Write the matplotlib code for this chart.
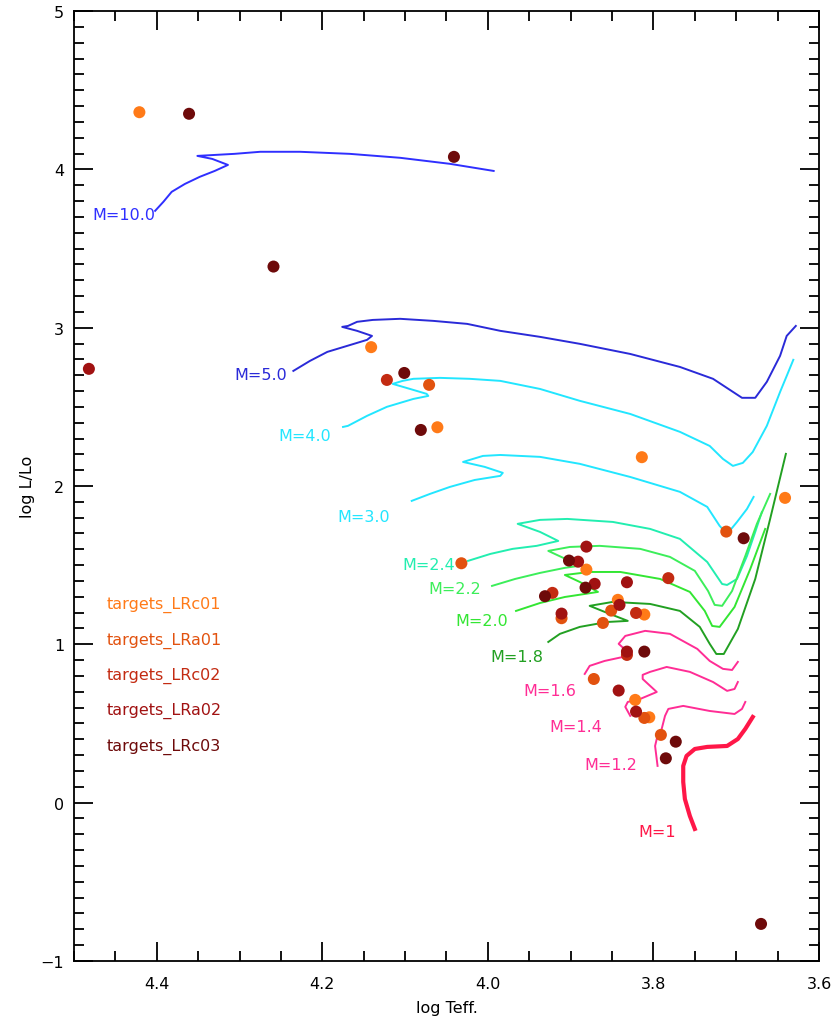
import matplotlib
matplotlib.use("Agg")
import matplotlib.pyplot as plt
from matplotlib.ticker import MultipleLocator

# evolutionary tracks (log Teff, log L/Lo)
m10_teff = [4.402, 4.392, 4.382, 4.366, 4.348, 4.330, 4.314, 4.333, 4.351, 4.306,
            4.275, 4.227, 4.167, 4.106, 4.046, 3.993]
m10_lum = [3.738, 3.795, 3.858, 3.908, 3.953, 3.990, 4.028, 4.066, 4.085, 4.098,
           4.111, 4.111, 4.098, 4.073, 4.035, 3.990]

m5_teff = [4.235, 4.215, 4.194, 4.170, 4.146, 4.140, 4.158, 4.176, 4.169, 4.158,
           4.139, 4.106, 4.066, 4.025, 3.985, 3.937, 3.889, 3.828, 3.768, 3.728,
           3.693, 3.677, 3.663, 3.647, 3.639, 3.628]
m5_lum = [2.727, 2.790, 2.847, 2.885, 2.923, 2.948, 2.980, 3.005, 3.011, 3.037,
          3.049, 3.056, 3.043, 3.024, 2.980, 2.942, 2.898, 2.834, 2.752, 2.677,
          2.557, 2.557, 2.658, 2.822, 2.948, 3.011]

m4_teff = [4.175, 4.169, 4.146, 4.122, 4.090, 4.072, 4.074, 4.094, 4.115, 4.103,
           4.090, 4.058, 4.022, 3.985, 3.937, 3.889, 3.828, 3.768, 3.732, 3.716,
           3.704, 3.692, 3.680, 3.663, 3.647, 3.639, 3.631]
m4_lum = [2.373, 2.380, 2.443, 2.500, 2.550, 2.569, 2.582, 2.613, 2.645, 2.664,
          2.677, 2.683, 2.677, 2.664, 2.613, 2.538, 2.455, 2.342, 2.253, 2.171,
          2.127, 2.146, 2.215, 2.380, 2.594, 2.695, 2.797]

m3_teff = [4.092, 4.070, 4.046, 4.016, 3.985, 3.982, 4.004, 4.030, 4.006, 3.985,
           3.937, 3.889, 3.828, 3.768, 3.735, 3.720, 3.711, 3.699, 3.687, 3.679]
m3_lum = [1.906, 1.950, 1.994, 2.038, 2.064, 2.083, 2.121, 2.152, 2.190, 2.196,
          2.184, 2.140, 2.057, 1.963, 1.868, 1.748, 1.697, 1.773, 1.855, 1.931]

m24_teff = [4.024, 3.997, 3.970, 3.941, 3.915, 3.937, 3.964, 3.937, 3.904, 3.849,
            3.804, 3.768, 3.735, 3.717, 3.711, 3.699, 3.687, 3.677, 3.669]
m24_lum = [1.527, 1.571, 1.603, 1.622, 1.653, 1.710, 1.761, 1.786, 1.792, 1.773,
           1.729, 1.666, 1.520, 1.381, 1.375, 1.413, 1.558, 1.710, 1.836]

m22_teff = [3.995, 3.967, 3.937, 3.907, 3.891, 3.906, 3.927, 3.901, 3.865, 3.816,
            3.780, 3.750, 3.734, 3.726, 3.717, 3.705, 3.689, 3.675, 3.659]
m22_lum = [1.369, 1.413, 1.451, 1.483, 1.495, 1.539, 1.590, 1.615, 1.622, 1.603,
           1.552, 1.464, 1.337, 1.249, 1.243, 1.337, 1.558, 1.761, 1.950]

m20_teff = [3.966, 3.937, 3.907, 3.883, 3.867, 3.889, 3.907, 3.877, 3.840, 3.792,
            3.756, 3.738, 3.729, 3.720, 3.702, 3.683, 3.665]
m20_lum = [1.211, 1.261, 1.299, 1.318, 1.331, 1.394, 1.438, 1.457, 1.457, 1.413,
           1.331, 1.211, 1.116, 1.110, 1.236, 1.476, 1.729]

m18_teff = [3.927, 3.913, 3.889, 3.856, 3.831, 3.859, 3.877, 3.849, 3.804, 3.768,
            3.744, 3.732, 3.724, 3.715, 3.698, 3.677, 3.659, 3.640]
m18_lum = [1.015, 1.066, 1.110, 1.141, 1.148, 1.205, 1.243, 1.268, 1.255, 1.211,
           1.110, 1.003, 0.939, 0.939, 1.097, 1.413, 1.792, 2.203]

m16_teff = [3.883, 3.877, 3.859, 3.837, 3.831, 3.842, 3.834, 3.810, 3.780, 3.747,
            3.732, 3.716, 3.705, 3.698]
m16_lum = [0.813, 0.864, 0.895, 0.920, 0.952, 1.003, 1.053, 1.085, 1.066, 0.971,
           0.895, 0.845, 0.838, 0.889]

m14_teff = [3.828, 3.834, 3.831, 3.816, 3.796, 3.813, 3.813, 3.804, 3.784, 3.756,
            3.728, 3.711, 3.702, 3.698]
m14_lum = [0.548, 0.605, 0.636, 0.655, 0.699, 0.781, 0.807, 0.826, 0.857, 0.826,
           0.762, 0.706, 0.718, 0.762]

m12_teff = [3.795, 3.798, 3.796, 3.790, 3.786, 3.782, 3.764, 3.732, 3.702, 3.693, 3.689]
m12_lum = [0.232, 0.358, 0.402, 0.466, 0.548, 0.592, 0.611, 0.579, 0.560, 0.592, 0.636]

m1_teff = [3.750, 3.756, 3.762, 3.764, 3.764, 3.760, 3.750, 3.735, 3.711, 3.698, 3.689, 3.680]
m1_lum = [-0.166, -0.084, 0.023, 0.131, 0.232, 0.295, 0.339, 0.352, 0.358, 0.402, 0.466, 0.541]

# track labels: text, position of the text
track_names = ["M=10.0", "M=5.0", "M=4.0", "M=3.0", "M=2.4", "M=2.2",
               "M=2.0", "M=1.8", "M=1.6", "M=1.4", "M=1.2", "M=1"]
label_teff = [4.440, 4.274, 4.221, 4.150, 4.072, 4.040, 4.008, 3.965, 3.925, 3.894, 3.851, 3.795]
label_lum = [3.713, 2.702, 2.316, 1.805, 1.502, 1.350, 1.148, 0.920, 0.706, 0.478, 0.244, -0.185]

# observed targets per run
lrc01_teff = [4.421, 4.141, 4.061, 3.814, 3.641, 3.881, 3.843, 3.811, 3.822, 3.805]
lrc01_lum = [4.361, 2.877, 2.371, 2.182, 1.925, 1.472, 1.281, 1.188, 0.649, 0.539]

lra01_teff = [4.071, 3.712, 4.032, 3.911, 3.851, 3.861, 3.872, 3.811, 3.791]
lra01_lum = [2.639, 1.712, 1.512, 1.165, 1.213, 1.135, 0.781, 0.535, 0.428]

lrc02_teff = [4.122, 3.782, 3.922, 3.821, 3.832]
lrc02_lum = [2.670, 1.418, 1.325, 1.198, 0.933]

lra02_teff = [4.482, 3.881, 3.891, 3.871, 3.832, 3.911, 3.841, 3.832, 3.842, 3.821]
lra02_lum = [2.740, 1.617, 1.522, 1.382, 1.392, 1.194, 1.249, 0.954, 0.708, 0.575]

lrc03_teff = [4.361, 4.041, 4.259, 4.101, 4.081, 3.691, 3.902, 3.882, 3.931, 3.811,
              3.773, 3.785, 3.670]
lrc03_lum = [4.351, 4.079, 3.386, 2.714, 2.354, 1.670, 1.529, 1.358, 1.304, 0.954,
             0.385, 0.280, -0.766]

target_names = ["targets_LRc01", "targets_LRa01", "targets_LRc02",
                "targets_LRa02", "targets_LRc03"]


def main():
    fig = plt.figure(figsize=(8.38, 10.2), dpi=100)
    ax = fig.add_axes([0.0883, 0.0569, 0.8890, 0.9313])

    blue1, blue2 = "#2f2fff", "#2a2ad8"
    cyan = "#22e6ff"
    aqua = "#22eeb0"
    green1, green2, green3 = "#3cee5a", "#33e633", "#22a022"
    pink, red = "#ff2d95", "#ff1748"

    tracks = [
        (m10_teff, m10_lum, blue1, 1.4),
        (m5_teff, m5_lum, blue2, 1.4),
        (m4_teff, m4_lum, cyan, 1.4),
        (m3_teff, m3_lum, cyan, 1.4),
        (m24_teff, m24_lum, aqua, 1.4),
        (m22_teff, m22_lum, green1, 1.4),
        (m20_teff, m20_lum, green2, 1.4),
        (m18_teff, m18_lum, green3, 1.4),
        (m16_teff, m16_lum, pink, 1.4),
        (m14_teff, m14_lum, pink, 1.4),
        (m12_teff, m12_lum, pink, 1.4),
        (m1_teff, m1_lum, red, 3.0),
    ]
    for teff, lum, col, lw in tracks:
        ax.plot(teff, lum, color=col, lw=lw, zorder=2)

    label_cols = [blue1, blue2, cyan, cyan, aqua, green1, green2, green3,
                  pink, pink, pink, red]
    for name, x, y, col in zip(track_names, label_teff, label_lum, label_cols):
        ax.text(x, y, name, color=col, fontsize=11.5, ha="center", va="center")

    groups = [
        (lrc01_teff, lrc01_lum, "#ff7a18"),
        (lra01_teff, lra01_lum, "#e2520f"),
        (lrc02_teff, lrc02_lum, "#c32b12"),
        (lra02_teff, lra02_lum, "#a11212"),
        (lrc03_teff, lrc03_lum, "#6e0a0a"),
    ]
    for teff, lum, col in groups:
        ax.scatter(teff, lum, s=75, color=col, edgecolors="none", zorder=3)

    # legend as coloured text block
    for i, (name, (_, _, col)) in enumerate(zip(target_names, groups)):
        ax.text(4.460, 1.255 - i * 0.224, name, color=col, fontsize=11.5,
                ha="left", va="center")

    ax.set_xlim(4.5, 3.6)
    ax.set_ylim(-1, 5)
    ax.xaxis.set_major_locator(MultipleLocator(0.2))
    ax.xaxis.set_minor_locator(MultipleLocator(0.05))
    ax.yaxis.set_major_locator(MultipleLocator(1))
    ax.yaxis.set_minor_locator(MultipleLocator(0.1))
    ax.tick_params(which="both", direction="in", top=True, right=True, width=1.3)
    ax.tick_params(which="major", length=14, labelsize=11.5)
    ax.tick_params(which="minor", length=7)
    ax.tick_params(axis="x", which="major", pad=11)
    ax.tick_params(axis="y", which="major", pad=7)
    ax.xaxis.set_major_formatter(plt.FuncFormatter(lambda v, p: f"{v:.1f}"))
    for sp in ax.spines.values():
        sp.set_linewidth(1.3)

    ax.set_xlabel("log Teff.", fontsize=11.5, labelpad=6)
    ax.set_ylabel("log L/Lo", fontsize=11.5, labelpad=4)

    fig.savefig("out.png", dpi=100)
    plt.close(fig)


if __name__ == "__main__":
    main()
